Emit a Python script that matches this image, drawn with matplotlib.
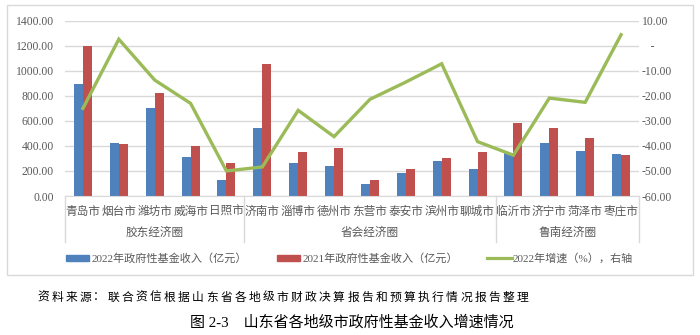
import matplotlib
matplotlib.use('Agg')
import matplotlib.pyplot as plt
import matplotlib.transforms as mtransforms
from matplotlib.patches import Rectangle
from matplotlib.lines import Line2D
import numpy as np

plt.rcParams['font.family'] = ['Liberation Serif', 'Noto Sans CJK SC', 'DejaVu Sans']

cities = ['青岛市', '烟台市', '潍坊市', '威海市', '日照市',
          '济南市', '淄博市', '德州市', '东营市', '泰安市', '滨州市', '聊城市',
          '临沂市', '济宁市', '菏泽市', '枣庄市']
groups = ['胶东经济圈', '省会经济圈', '鲁南经济圈']
group_sizes = [5, 7, 4]
rev_2022 = [896, 427, 705, 308, 125, 546, 262, 241, 98, 180, 276, 212, 345, 427, 361, 332]
rev_2021 = [1196, 419, 822, 398, 260, 1058, 355, 382, 125, 212, 300, 350, 586, 546, 467, 324]
growth = [-25.0, 2.6, -13.7, -23.0, -50.0, -48.4, -25.8, -36.3, -21.4, -14.5, -7.2, -38.3,
          -43.7, -20.9, -22.6, 4.4]

blue = '#4F81BD'
red = '#C0504D'
green = '#9BBB59'
gray_txt = '#595959'
grid_c = '#D9D9D9'

W, H = 700, 335
fig = plt.figure(figsize=(7, 3.35), dpi=100)


def fx(px):
    return px / W


def fy(py):
    return 1 - py / H


ax = fig.add_axes([fx(65), fy(196), fx(639) - fx(65), fy(20.7) - fy(196)])
x = np.arange(len(cities))
bw = 0.25
ax.bar(x - bw / 2, rev_2022, bw, color=blue, zorder=2)
ax.bar(x + bw / 2, rev_2021, bw, color=red, zorder=2)
ax.set_xlim(-0.5, len(cities) - 0.5)
ax.set_ylim(0, 1400)
ax.set_yticks(np.arange(0, 1401, 200))
ax.set_yticklabels(['%.2f' % v for v in np.arange(0, 1401, 200)])
ax.yaxis.grid(True, color=grid_c, linewidth=1)
ax.set_axisbelow(True)
ax.set_xticks([])
for s in ['top', 'left', 'right']:
    ax.spines[s].set_visible(False)
ax.spines['bottom'].set_color(grid_c)
ax.tick_params(axis='y', length=0, pad=8, labelsize=8.4, labelcolor=gray_txt)

ax2 = ax.twinx()
ax2.plot(x, growth, color=green, linewidth=2.4, zorder=3, solid_joinstyle='miter')
ax2.set_ylim(-60, 10)
rt = np.arange(-60, 11, 10)
ax2.set_yticks(rt)
ax2.set_yticklabels(['   -' if v == 0 else '%.2f' % v for v in rt])
ax2.tick_params(axis='y', length=0, pad=2, labelsize=8.4, labelcolor=gray_txt)
for s in ax2.spines.values():
    s.set_visible(False)

# two-level category axis drawn below the plot
trans = mtransforms.blended_transform_factory(ax.transData, fig.transFigure)
for i, c in enumerate(cities):
    ax.text(i, fy(212), c, transform=trans, ha='center', va='center',
            fontsize=8.4, color=gray_txt)
edges = np.concatenate([[0], np.cumsum(group_sizes)]) - 0.5
for g, a, b in zip(groups, edges[:-1], edges[1:]):
    ax.text((a + b) / 2, fy(233), g, transform=trans, ha='center', va='center',
            fontsize=8.4, color=gray_txt)
for e in edges:
    ax.add_line(Line2D([e, e], [fy(196), fy(242)], transform=trans, color=grid_c,
                       linewidth=1, clip_on=False))

# outer chart frame
fig.patches.append(Rectangle((fx(7), fy(275)), fx(693) - fx(7), fy(5) - fy(275),
                             transform=fig.transFigure, fill=False, edgecolor=grid_c,
                             linewidth=1))

# legend row
ly = fy(258)
for x0, col, label in [(66, blue, '2022年政府性基金收入（亿元）'),
                       (277, red, '2021年政府性基金收入（亿元）')]:
    fig.patches.append(Rectangle((fx(x0), ly - 3 / H), fx(23), 6 / H,
                                 transform=fig.transFigure, color=col))
    fig.text(fx(x0 + 26), ly, label, ha='left', va='center', fontsize=8, color=gray_txt)
fig.add_artist(Line2D([fx(487), fx(512)], [ly, ly], transform=fig.transFigure,
                      color=green, linewidth=2.3))
fig.text(fx(513), ly, '2022年增速（%），右轴', ha='left', va='center', fontsize=8,
         color=gray_txt)

# source note, spaced out character by character
note = '资料来源：联合资信根据山东省各地级市财政决算报告和预算执行情况报告整理'
for i, ch in enumerate(note):
    fig.text(fx(37 + i * 14.1), fy(297), ch, ha='left', va='center', fontsize=8.5,
             color='black', family=['Noto Sans CJK SC'])

fig.text(fx(352), fy(322), '图 2-3    山东省各地级市政府性基金收入增速情况', ha='center',
         va='center', fontsize=10.8, color='black')

fig.savefig('out.png', dpi=100)
